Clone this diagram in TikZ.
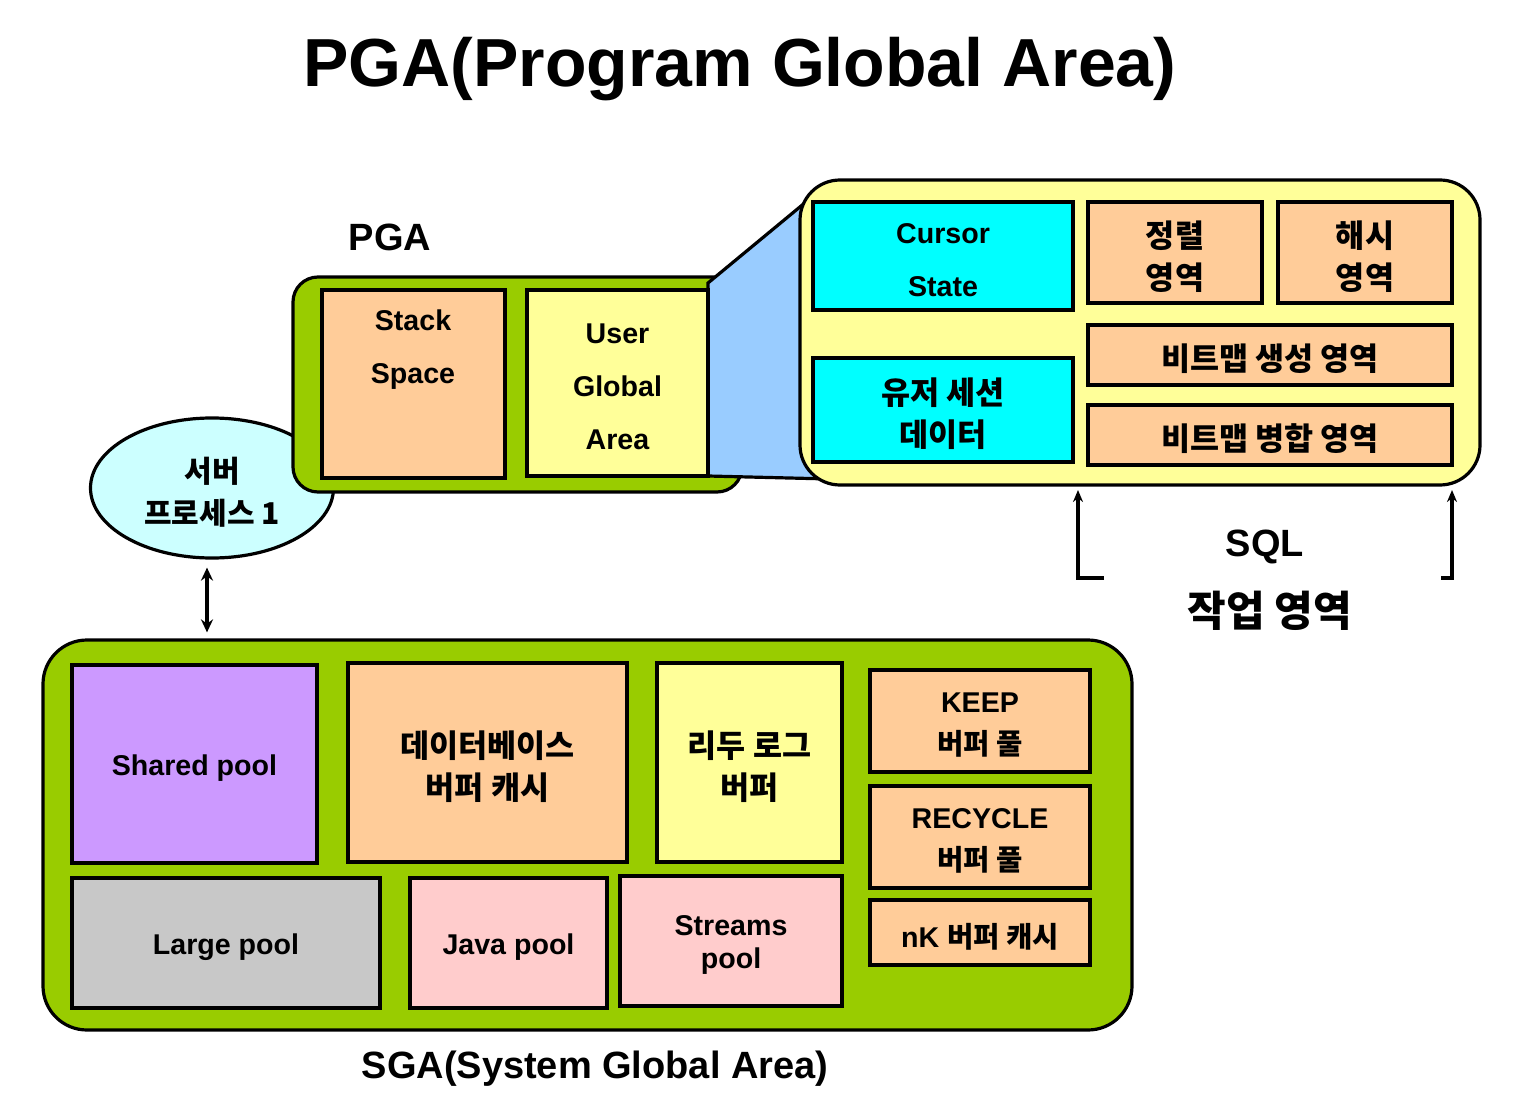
\documentclass[tikz,border=0pt]{standalone}
\usepackage{fontspec}
\setmainfont{Liberation Sans}
\newfontfamily\kr{Noto Sans CJK KR}
\usepackage{tikz}
\usetikzlibrary{positioning,fit,shapes.geometric,arrows.meta}
\definecolor{areagreen}{HTML}{99CC00}
\definecolor{peach}{HTML}{FFCC99}
\definecolor{paleyellow}{HTML}{FFFF99}
\definecolor{aqua}{HTML}{00FFFF}
\definecolor{skyblue}{HTML}{99CCFF}
\definecolor{palecyan}{HTML}{CCFFFF}
\definecolor{lilac}{HTML}{CC99FF}
\definecolor{poolgray}{HTML}{C8C8C8}
\definecolor{pink}{HTML}{FFCCCC}
\tikzset{
    cell/.style={draw, line width=1.6pt, inner sep=0pt}, % 내부 메모리 영역
    area/.style={draw, line width=1.6pt, inner sep=0pt, fill=areagreen}, % PGA, SGA 바탕
    txt/.style={font=\bfseries\fontsize{14.3}{26.5}\selectfont, align=center, yshift=-2pt},
    mtxt/.style={font=\bfseries\fontsize{14.3}{21}\selectfont, align=center, yshift=-2pt},
    ktxt/.style={font=\kr\bfseries\fontsize{15.8}{21}\selectfont, align=center, yshift=-2pt},
    big/.style={font=\bfseries\fontsize{19}{22}\selectfont, yshift=-2pt},
    link/.style={line width=1.6pt, -{Stealth[length=6pt, width=5pt]}},
    twoway/.style={line width=1.6pt, {Stealth[length=6.5pt, width=6pt]}-{Stealth[length=6.5pt, width=6pt]}}
}

\begin{document}
\begin{tikzpicture}[x=0.5pt, y=-0.5pt]
    \useasboundingbox (0, 0) rectangle (1520, 1101);

    \node (title) [font=\bfseries\fontsize{34}{40}\selectfont] at (740, 69) {PGA(Program Global Area)};

    % 서버 프로세스와 PGA
    \node (proc) [ellipse, draw, line width=1.6pt, fill=palecyan, minimum width=121.5pt, minimum height=70pt] at (212, 488) {};
    \node (proctxt) [ktxt, font=\kr\bfseries\fontsize{15}{21}\selectfont] at (proc) {서버\\프로세스 1};
    \node (pgalbl) [big] at (390, 233) {PGA};
    \node (pga) [area, rounded corners=12.5pt, fit={(293, 277) (742, 492)}] {};
    \draw[line width=1.6pt, fill=skyblue] (708, 283) -- (818, 192) -- (830, 479) -- (708, 476) -- cycle;
    \node (stack) [cell, fill=peach, fit={(322, 290) (505, 478)}] {};
    \node (stacktxt) [txt] at (413, 346) {Stack\\Space};
    \node (uga) [cell, fill=paleyellow, fit={(527, 290) (708, 476)}] {};
    \node (ugatxt) [txt] at (uga) {User\\Global\\Area};

    % SQL 작업 영역
    \node (sqlarea) [cell, fill=paleyellow, rounded corners=20pt, fit={(800, 180) (1480, 485)}] {};
    \node (cursor) [cell, fill=aqua, fit={(813, 202) (1073, 310)}] {};
    \node (usess) [cell, fill=aqua, fit={(813, 358) (1073, 462)}] {};
    \node (sort) [cell, fill=peach, fit={(1088, 202) (1262, 303)}] {};
    \node (hash) [cell, fill=peach, fit={(1278, 202) (1452, 303)}] {};
    \node (bmcreate) [cell, fill=peach, fit={(1088, 325) (1452, 385)}] {};
    \node (bmmerge) [cell, fill=peach, fit={(1088, 405) (1452, 465)}] {};
    \node (cursortxt) [txt] at (cursor) {Cursor\\State};
    \node (usesstxt) [ktxt] at (usess) {유저 세션\\데이터};
    \node (sorttxt) [ktxt] at (sort) {정렬\\영역};
    \node (hashtxt) [ktxt] at (hash) {해시\\영역};
    \node (bmcreatetxt) [ktxt] at (bmcreate) {비트맵 생성 영역};
    \node (bmmergetxt) [ktxt] at (bmmerge) {비트맵 병합 영역};

    \coordinate (ltip) at (1078, 490);
    \coordinate (lfoot) at (1104, 578);
    \coordinate (rtip) at (1452, 490);
    \coordinate (rfoot) at (1441, 578);
    \draw[link] (lfoot) -| (ltip);
    \draw[link] (rfoot) -| (rtip);
    \node (sqllbl) [big] at (1265, 543) {SQL};
    \node (worklbl) [font=\kr\bfseries\fontsize{21}{24}\selectfont, yshift=-2pt] at (1270, 607) {작업 영역};

    % SGA
    \node (sga) [area, rounded corners=22pt, fit={(43, 640) (1132, 1030)}] {};
    \draw[twoway, shorten <=4pt, shorten >=3pt] (proc.south -| 207, 0) -- (sga.north -| 207, 0);
    \node (shared) [cell, fill=lilac, fit={(72, 665) (317, 863)}] {};
    \node (dbbuf) [cell, fill=peach, fit={(348, 663) (627, 862)}] {};
    \node (redo) [cell, fill=paleyellow, fit={(657, 663) (842, 862)}] {};
    \node (keep) [cell, fill=peach, fit={(870, 670) (1090, 772)}] {};
    \node (recycle) [cell, fill=peach, fit={(870, 786) (1090, 888)}] {};
    \node (nk) [cell, fill=peach, fit={(870, 900) (1090, 965)}] {};
    \node (large) [cell, fill=poolgray, fit={(72, 878) (380, 1008)}] {};
    \node (java) [cell, fill=pink, fit={(410, 878) (607, 1008)}] {};
    \node (streams) [cell, fill=pink, fit={(620, 876) (842, 1006)}] {};
    \node (sharedtxt) [txt] at (shared) {Shared pool};
    \node (dbbuftxt) [ktxt] at (dbbuf) {데이터베이스\\버퍼 캐시};
    \node (redotxt) [ktxt] at (redo) {리두 로그\\버퍼};
    \node (keeptxt) [mtxt] at (keep) {KEEP\\{\kr 버퍼 풀}};
    \node (recycletxt) [mtxt] at (recycle) {RECYCLE\\{\kr 버퍼 풀}};
    \node (nktxt) [mtxt] at (nk) {nK {\kr 버퍼 캐시}};
    \node (largetxt) [txt] at (large) {Large pool};
    \node (javatxt) [txt] at (java) {Java pool};
    \node (streamstxt) [txt] at (streams) {Streams\\[-10pt]pool};
    \node (sgalbl) [big] at (595, 1065) {SGA(System Global Area)};
\end{tikzpicture}
\end{document}
